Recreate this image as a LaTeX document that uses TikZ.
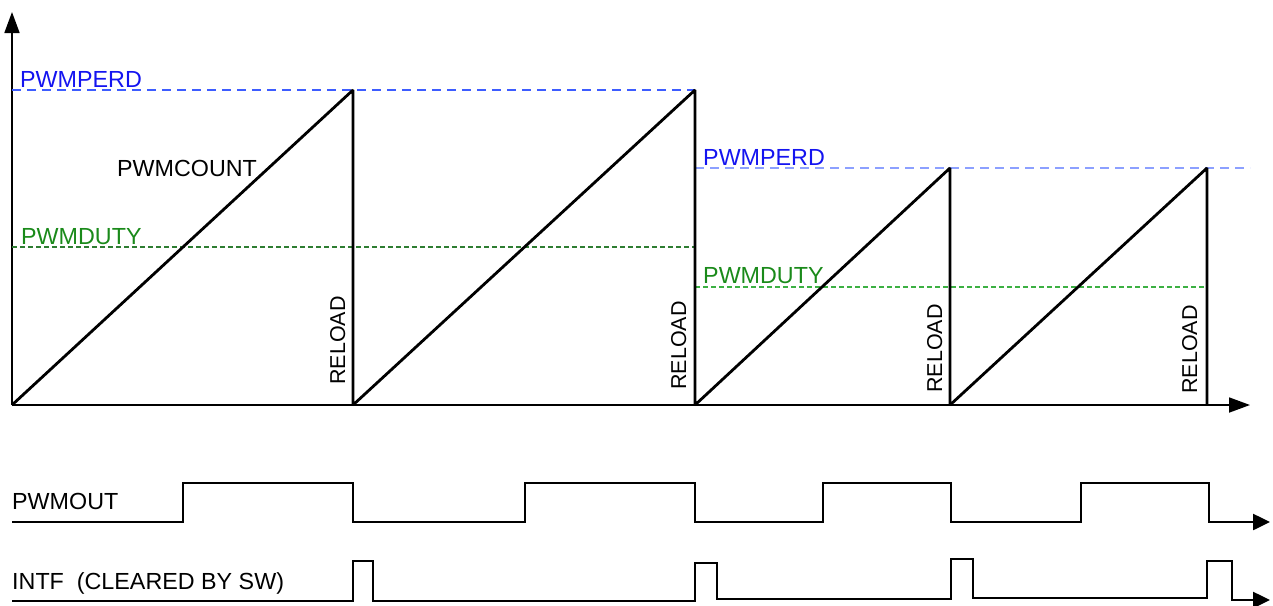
\documentclass[tikz,border=0pt]{standalone}
\usepackage{fontspec}
\setmainfont{Liberation Sans}
\usetikzlibrary{arrows.meta}
\definecolor{perdA}{HTML}{3D5CFF}
\definecolor{perdB}{HTML}{8CA0FF}
\definecolor{perdT}{HTML}{1414F0}
\definecolor{dutyA}{HTML}{2E7D32}
\definecolor{dutyB}{HTML}{3CB043}
\definecolor{dutyT}{HTML}{1A8A1A}
\begin{document}
\begin{tikzpicture}[x=1pt,y=-1pt,
  lbl/.style={font=\fontsize{23.3}{27}\selectfont, inner sep=0pt, anchor=base west},
  vlbl/.style={inner sep=0pt, anchor=base west, font=\fontsize{21.5}{25}\selectfont, rotate=90},
  ramp/.style={line width=2.8pt, line join=miter, miter limit=1.5},
  axisline/.style={line width=1.8pt, -{Triangle[length=21pt,width=15pt]}},
  wave/.style={line width=2.5pt, line join=miter, -{Triangle[length=17pt,width=16pt]}},
  perdline/.style={line width=1.2pt, dash pattern=on 9pt off 6pt},
  dutyline/.style={line width=1.1pt, dash pattern=on 5pt off 3pt},
  ]
\useasboundingbox (0,0) rectangle (1273,605);

% axes
\coordinate (O) at (12,405);
\coordinate (ytip) at (12,12);
\coordinate (xtip) at (1250,405);
\draw[axisline] (O) -- (ytip);
\draw[axisline] (O) -- (xtip);

% reference levels
\draw[perdline, perdA] (12,90) -- (695,90);
\draw[perdline, perdB] (695,168) -- (1250,168);
\draw[dutyline, dutyA] (12,247) -- (695,247);
\draw[dutyline, dutyB] (695,287) -- (1207,287);

% counter ramps
\draw[ramp] (O) -- (353,90) -- (353,405) -- (695,90) -- (695,405)
  -- (950,168) -- (950,405) -- (1207,168) -- (1207,405);

% labels
\node[lbl, text=perdT] (perd1) at (20,87) {PWMPERD};
\node[lbl] (count) at (117,176) {PWMCOUNT};
\node[lbl, text=dutyT] (duty1) at (21,244) {PWMDUTY};
\node[lbl, text=perdT] (perd2) at (703,165) {PWMPERD};
\node[lbl, text=dutyT] (duty2) at (703,283) {PWMDUTY};

\node[vlbl] (rl1) at (345,385) {RELOAD};
\node[vlbl] (rl2) at (686,390) {RELOAD};
\node[vlbl] (rl3) at (942,393) {RELOAD};
\node[vlbl] (rl4) at (1197,394) {RELOAD};

% PWMOUT
\node[lbl] (pwmout) at (12,509) {PWMOUT};
\draw[wave] (12,522) -| (183,483) -| (353,522) -| (525,483) -| (695,522)
  -| (823,483) -| (951,522) -| (1081,483) -| (1209,522) -- (1270,522);

% INTF
\node[lbl] (intf) at (12,589) {INTF\ \ (CLEARED BY SW)};
\draw[wave] (12,601) -| (353,561) -| (373,601) -| (695,563) -| (717,599)
  -| (951,559) -| (973,598) -| (1207,561) -| (1232,600) -- (1270,600);
\end{tikzpicture}
\end{document}
